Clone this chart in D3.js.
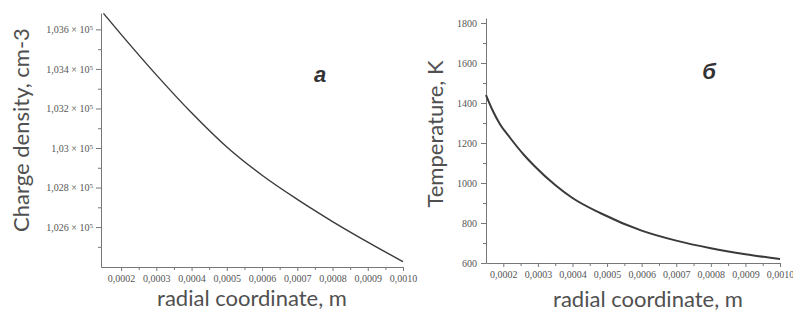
<!DOCTYPE html>
<html>
<head>
<meta charset="utf-8">
<script src="https://cdn.jsdelivr.net/npm/d3@7"></script>
<style>
  body { margin: 0; background: #fff; }
  svg { display: block; }
</style>
</head>
<body>
<svg id="chart"></svg>
<script>
// panel a: charge density vs radius
let radiusA = [0.00015, 0.0002, 0.0003, 0.0004, 0.0005, 0.0006, 0.0007, 0.0008, 0.0009, 0.001];
let chargeDensity = [103681, 103575, 103370, 103178, 103005, 102862, 102740, 102628, 102524, 102425];

// panel b: temperature vs radius
let radiusB = [0.00015, 0.00017, 0.00019, 0.00022, 0.00026, 0.00029, 0.00035, 0.0004, 0.00048, 0.0006, 0.0007, 0.0008, 0.0009, 0.001];
let temperature = [1440, 1360, 1295, 1225, 1140, 1085, 990, 925, 850, 762, 712, 674, 644, 620];

// ticks
let xTicks = [0.0002, 0.0003, 0.0004, 0.0005, 0.0006, 0.0007, 0.0008, 0.0009, 0.001];
let xMinor = [0.00025, 0.00035, 0.00045, 0.00055, 0.00065, 0.00075, 0.00085, 0.00095];
let yTicksA = [102600, 102800, 103000, 103200, 103400, 103600];
let yMinorA = [102500, 102700, 102900, 103100, 103300, 103500];
let yTicksB = [600, 800, 1000, 1200, 1400, 1600, 1800];
let yMinorB = [700, 900, 1100, 1300, 1500, 1700];

let W = 793, H = 315;
let svg = d3.select('#chart').attr('width', W).attr('height', H);

let tickFont = '"Liberation Serif", "Times New Roman", serif';
let titleFont = 'Lato, "Open Sans", sans-serif';

// comma decimals like the original
let commaFmt = (v, digits) => v.toFixed(digits).replace('.', ',');

let drawPanel = (cfg) => {
    let xScale = d3.scaleLinear().domain(cfg.xDomain).range([cfg.left, cfg.right]);
    let yScale = d3.scaleLinear().domain(cfg.yDomain).range([cfg.bottom, cfg.top]);

    let g = svg.append('g');

    // minor ticks first
    let xm = g.append('g')
        .attr('transform', 'translate(0,' + cfg.bottom + ')')
        .call(d3.axisBottom(xScale).tickValues(xMinor).tickSize(3).tickFormat(''));
    xm.select('.domain').remove();
    let ym = g.append('g')
        .attr('transform', 'translate(' + cfg.left + ',0)')
        .call(d3.axisLeft(yScale).tickValues(cfg.yMinor).tickSize(3).tickFormat(''));
    ym.select('.domain').remove();

    let xAxis = g.append('g')
        .attr('transform', 'translate(0,' + cfg.bottom + ')')
        .call(d3.axisBottom(xScale).tickValues(xTicks).tickSize(4).tickSizeOuter(0).tickPadding(4)
            .tickFormat(d => commaFmt(d, 4)));

    let yAxis = g.append('g')
        .attr('transform', 'translate(' + cfg.left + ',0)')
        .call(d3.axisLeft(yScale).tickValues(cfg.yTicks).tickSize(5).tickSizeOuter(0).tickPadding(cfg.yPad)
            .tickFormat(cfg.yFormat));

    [xAxis, yAxis, xm, ym].forEach(a => {
        a.attr('font-family', null);
        a.selectAll('line').attr('stroke', '#777');
        a.select('.domain').attr('stroke', '#777');
        a.selectAll('text')
            .attr('font-family', tickFont)
            .attr('font-size', 10)
            .attr('fill', '#555');
    });

    if (cfg.sci) {
        yAxis.selectAll('.tick text').each(function(d) {
            let t = d3.select(this);
            t.text(null);
            t.append('tspan').text(cfg.sci(d) + ' \u00d7 10');
            t.append('tspan').attr('dy', '-0.45em').attr('font-size', 7).text('5');
        });
    }

    let line = d3.line()
        .x((d, i) => xScale(cfg.xs[i]))
        .y(d => yScale(d))
        .curve(d3.curveMonotoneX);

    g.append('path')
        .datum(cfg.ys)
        .attr('d', line)
        .attr('fill', 'none')
        .attr('stroke', '#3a3a3a')
        .attr('stroke-width', cfg.lineW);

    // axis titles
    g.append('text')
        .attr('x', cfg.titleX)
        .attr('y', cfg.titleXY)
        .attr('text-anchor', 'middle')
        .attr('font-family', titleFont)
        .attr('font-size', 22)
        .attr('fill', '#505050')
        .text('radial coordinate, m');

    g.append('text')
        .attr('transform', 'translate(' + cfg.yTitleX + ',' + cfg.yTitleY + ') rotate(-90)')
        .attr('text-anchor', 'middle')
        .attr('font-family', titleFont)
        .attr('font-size', 22)
        .attr('fill', '#505050')
        .text(cfg.yTitle);

    g.append('text')
        .attr('x', cfg.tagX)
        .attr('y', cfg.tagY)
        .attr('text-anchor', 'middle')
        .attr('font-family', '"Liberation Sans", Arial, sans-serif')
        .attr('font-style', 'italic')
        .attr('font-weight', 'bold')
        .attr('font-size', 22)
        .attr('fill', '#333')
        .text(cfg.tag);
};

drawPanel({
    xs: radiusA, ys: chargeDensity,
    xDomain: [0.000143, 0.001], yDomain: [102398, 103683],
    left: 101, right: 403, top: 13, bottom: 267,
    yTicks: yTicksA, yMinor: yMinorA, yPad: 3,
    yFormat: d => '',
    sci: d => { let s = (d / 1e5).toFixed(3).replace(/0+$/, ''); return s.replace('.', ','); },
    lineW: 1.4,
    titleX: 252, titleXY: 306,
    yTitle: 'Charge density, cm-3', yTitleX: 29, yTitleY: 130,
    tag: '\u0430', tagX: 320, tagY: 82
});

drawPanel({
    xs: radiusB, ys: temperature,
    xDomain: [0.00015, 0.001], yDomain: [600, 1825],
    left: 486, right: 780, top: 18, bottom: 263,
    yTicks: yTicksB, yMinor: yMinorB, yPad: 4,
    yFormat: d3.format('d'),
    lineW: 2,
    titleX: 648, titleXY: 307,
    yTitle: 'Temperature, K', yTitleX: 443, yTitleY: 134,
    tag: '\u0431', tagX: 709, tagY: 79
});
</script>
</body>
</html>
